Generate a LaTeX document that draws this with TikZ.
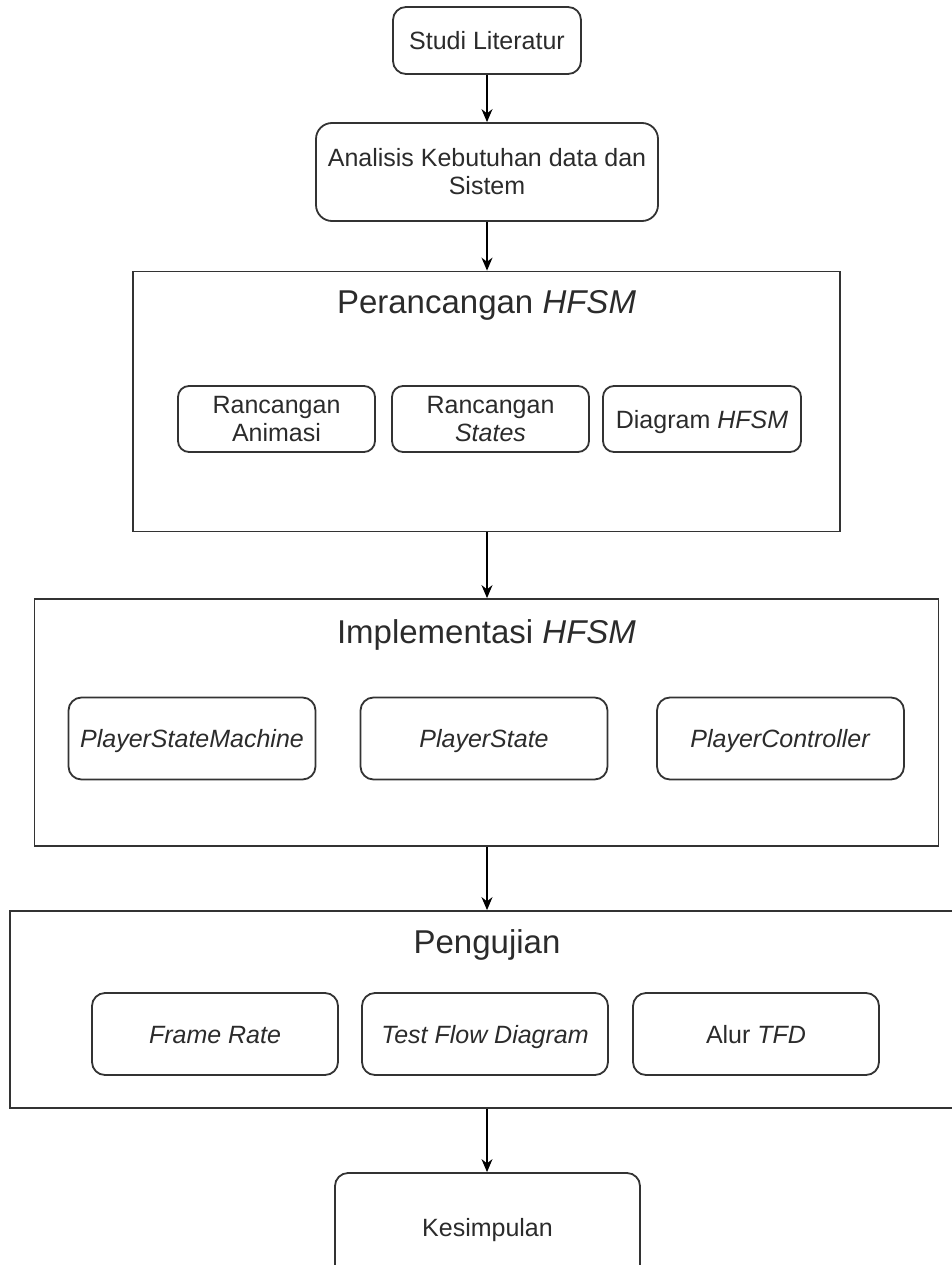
\documentclass[tikz,border=0pt]{standalone}
\usepackage{fontspec}
\setmainfont{Liberation Sans}
\usetikzlibrary{arrows.meta}
\definecolor{txt}{HTML}{2B2B2B}
\definecolor{ln}{HTML}{333333}
\tikzset{
  rbox/.style={draw=ln, line width=1.8pt, rounded corners=13pt, align=center,
    inner sep=0pt, text=txt, font=\fontsize{25}{28}\selectfont},
  oneline/.style={text height=18pt, text depth=0pt},
  outer/.style={draw=ln, line width=1.8pt, inner sep=0pt},
  ttl/.style={text=txt, font=\fontsize{33}{38}\selectfont, inner sep=0pt, text height=24pt, text depth=0pt},
  flow/.style={draw=black, line width=1.5pt, -{Stealth[length=13pt,width=11pt]}}
}
\begin{document}
\begin{tikzpicture}[x=1pt,y=-1pt]
\useasboundingbox (0,0) rectangle (952,1265);
\clip (0,0) rectangle (952,1265);

% top steps
\node[rbox, oneline, minimum width=188pt, minimum height=67pt] (studi) at (487,40.5) {Studi Literatur};
\node[rbox, minimum width=342pt, minimum height=98pt, rounded corners=16pt] (analisis) at (487,172) {Analisis Kebutuhan data dan\\Sistem};

% Perancangan HFSM
\node[outer, minimum width=707pt, minimum height=260pt] (peran) at (486.5,401.5) {};
\node[ttl] (perantitle) at (486.5,301) {Perancangan \textit{HFSM}};
\node[rbox, minimum width=197pt, minimum height=66pt, rounded corners=11pt] (ranim) at (276.5,419) {Rancangan\\Animasi};
\node[rbox, minimum width=197pt, minimum height=66pt, rounded corners=11pt] (rstate) at (490.5,419) {Rancangan\\\textit{States}};
\node[rbox, oneline, minimum width=198pt, minimum height=66pt, rounded corners=11pt] (diag) at (702,419) {Diagram \textit{HFSM}};

% Implementasi HFSM
\node[outer, minimum width=904pt, minimum height=247pt] (impl) at (486.5,722.5) {};
\node[ttl] (impltitle) at (486.5,631) {Implementasi \textit{HFSM}};
\node[rbox, oneline, minimum width=247pt, minimum height=82pt] (psm) at (192,738.5) {\textit{PlayerStateMachine}};
\node[rbox, oneline, minimum width=247pt, minimum height=82pt] (ps) at (484,738.5) {\textit{PlayerState}};
\node[rbox, oneline, minimum width=247pt, minimum height=82pt] (pc) at (780.5,738.5) {\textit{PlayerController}};

% Pengujian
\node[outer, minimum width=954pt, minimum height=197pt] (uji) at (487,1009.5) {};
\node[ttl] (ujititle) at (487,941) {Pengujian};
\node[rbox, oneline, minimum width=246pt, minimum height=82pt] (fr) at (215,1034) {\textit{Frame Rate}};
\node[rbox, oneline, minimum width=246pt, minimum height=82pt] (tfd) at (485,1034) {\textit{Test Flow Diagram}};
\node[rbox, oneline, minimum width=246pt, minimum height=82pt] (alur) at (756,1034) {Alur \textit{TFD}};

% Kesimpulan
\node[rbox, oneline, minimum width=305pt, minimum height=108pt] (kes) at (487.5,1227) {Kesimpulan};

% connectors
\draw[flow] (studi.south) -- (studi.south |- analisis.north);
\draw[flow] (analisis.south) -- (analisis.south |- peran.north);
\draw[flow] (analisis.south |- peran.south) -- (analisis.south |- impl.north);
\draw[flow] (analisis.south |- impl.south) -- (analisis.south |- uji.north);
\draw[flow] (analisis.south |- uji.south) -- (analisis.south |- kes.north);
\end{tikzpicture}
\end{document}
